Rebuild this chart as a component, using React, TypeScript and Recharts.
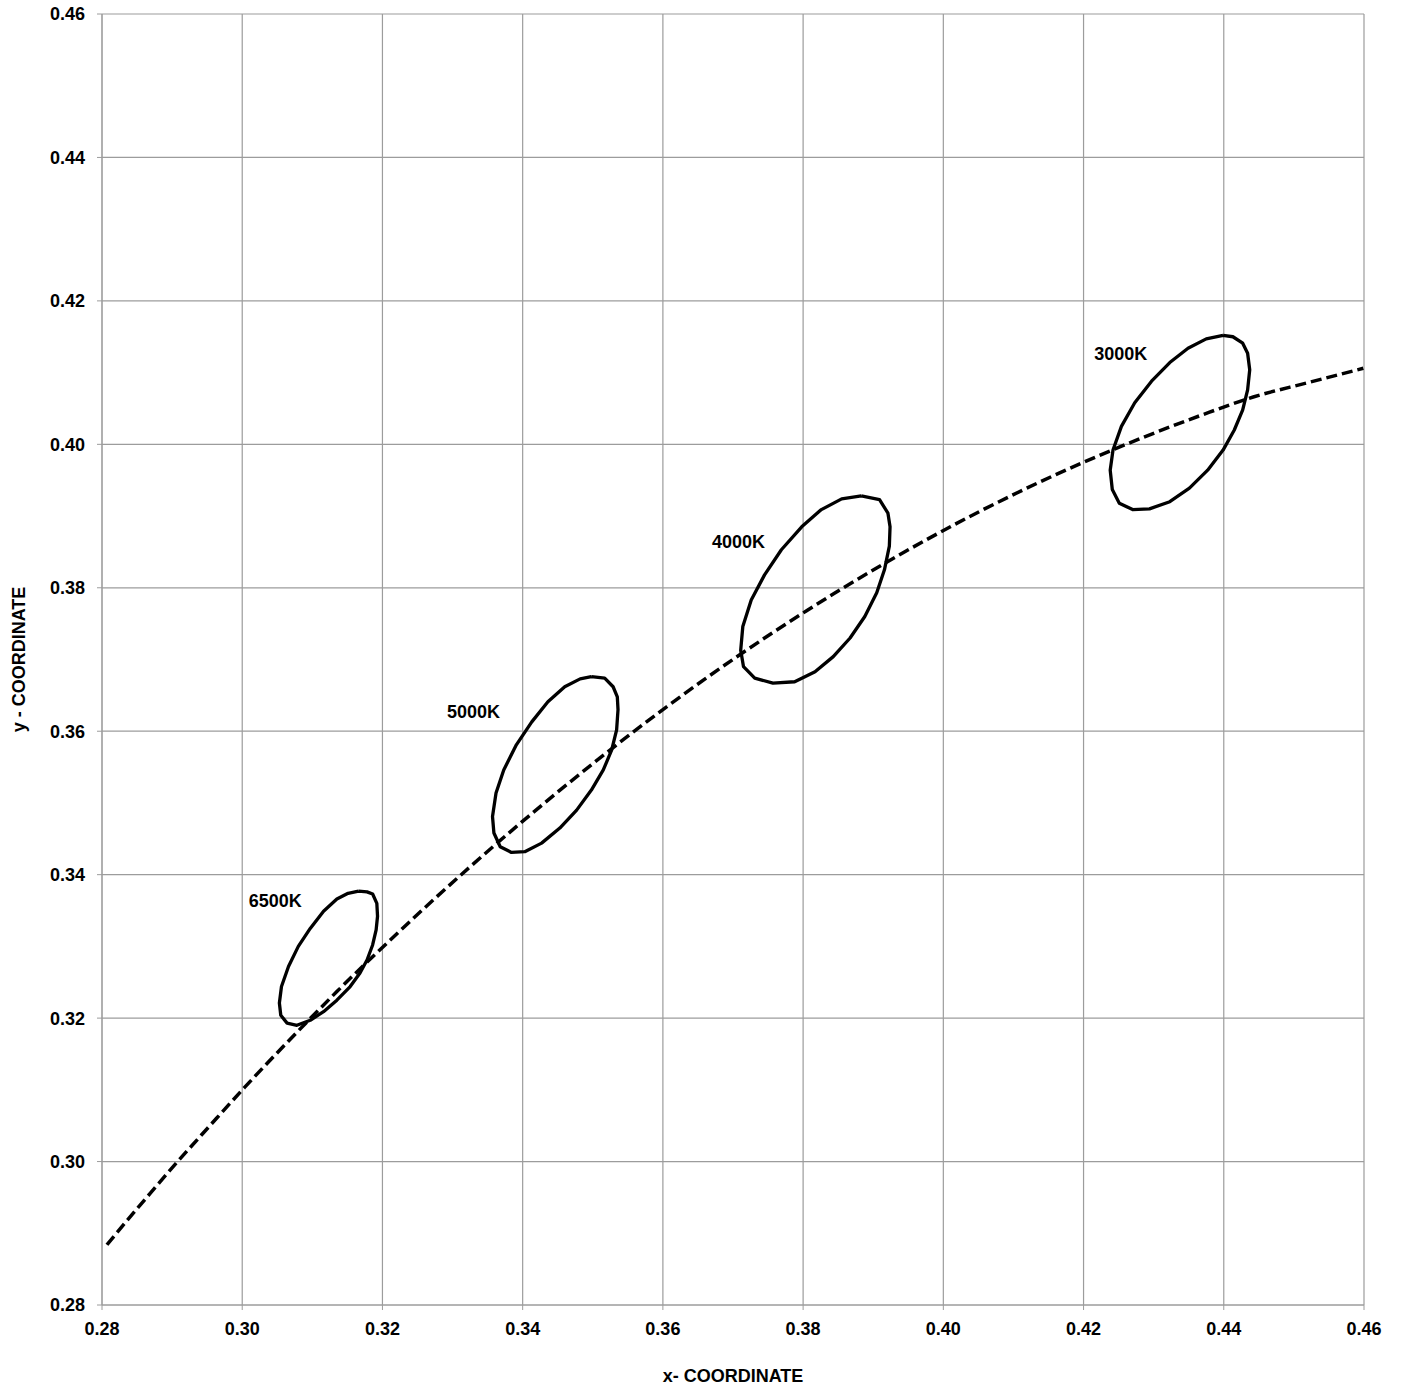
import React from "react";
import {
  ComposedChart,
  Line,
  XAxis,
  YAxis,
  CartesianGrid,
  ReferenceDot,
  Label,
} from "recharts";

type Pt = { x: number; y: number };

// Planckian locus, 10000K -> 2700K (CIE 1931 x, y)
const locus: Pt[] = [
  { x: 0.2807, y: 0.2884 },
  { x: 0.2836, y: 0.2918 },
  { x: 0.2869, y: 0.2956 },
  { x: 0.2907, y: 0.2999 },
  { x: 0.2952, y: 0.3048 },
  { x: 0.3003, y: 0.3103 },
  { x: 0.3064, y: 0.3166 },
  { x: 0.3135, y: 0.3237 },
  { x: 0.3221, y: 0.3318 },
  { x: 0.3325, y: 0.3411 },
  { x: 0.3451, y: 0.3516 },
  { x: 0.3608, y: 0.3636 },
  { x: 0.3805, y: 0.3768 },
  { x: 0.4053, y: 0.3907 },
  { x: 0.4369, y: 0.4041 },
  { x: 0.4442, y: 0.4066 },
  { x: 0.452, y: 0.4086 },
  { x: 0.4599, y: 0.4106 },
];

const ellipse6500: Pt[] = [
  { x: 0.3166, y: 0.3377 },
  { x: 0.3178, y: 0.3376 },
  { x: 0.3186, y: 0.3373 },
  { x: 0.3192, y: 0.336 },
  { x: 0.3193, y: 0.3342 },
  { x: 0.3191, y: 0.3323 },
  { x: 0.3186, y: 0.3302 },
  { x: 0.3178, y: 0.3281 },
  { x: 0.3168, y: 0.3263 },
  { x: 0.3154, y: 0.3244 },
  { x: 0.3135, y: 0.3225 },
  { x: 0.3116, y: 0.3209 },
  { x: 0.3097, y: 0.3197 },
  { x: 0.3078, y: 0.319 },
  { x: 0.3064, y: 0.3193 },
  { x: 0.3055, y: 0.3204 },
  { x: 0.3053, y: 0.3221 },
  { x: 0.3056, y: 0.3244 },
  { x: 0.3066, y: 0.3272 },
  { x: 0.308, y: 0.33 },
  { x: 0.3097, y: 0.3325 },
  { x: 0.3116, y: 0.3349 },
  { x: 0.3135, y: 0.3366 },
  { x: 0.3151, y: 0.3374 },
  { x: 0.3166, y: 0.3377 },
];

const ellipse5000: Pt[] = [
  { x: 0.3498, y: 0.3676 },
  { x: 0.3517, y: 0.3674 },
  { x: 0.3529, y: 0.3662 },
  { x: 0.3535, y: 0.3648 },
  { x: 0.3536, y: 0.363 },
  { x: 0.3534, y: 0.3602 },
  { x: 0.3527, y: 0.3574 },
  { x: 0.3515, y: 0.3546 },
  { x: 0.3498, y: 0.3518 },
  { x: 0.3477, y: 0.349 },
  { x: 0.3453, y: 0.3465 },
  { x: 0.3427, y: 0.3444 },
  { x: 0.3403, y: 0.3432 },
  { x: 0.3384, y: 0.3431 },
  { x: 0.3368, y: 0.3439 },
  { x: 0.3359, y: 0.3458 },
  { x: 0.3357, y: 0.3481 },
  { x: 0.3362, y: 0.3514 },
  { x: 0.3373, y: 0.3546 },
  { x: 0.3391, y: 0.3581 },
  { x: 0.3413, y: 0.3613 },
  { x: 0.3436, y: 0.3641 },
  { x: 0.346, y: 0.3662 },
  { x: 0.3482, y: 0.3673 },
  { x: 0.3498, y: 0.3676 },
];

const ellipse4000: Pt[] = [
  { x: 0.3883, y: 0.3928 },
  { x: 0.3909, y: 0.3923 },
  { x: 0.3921, y: 0.3904 },
  { x: 0.3924, y: 0.3885 },
  { x: 0.3923, y: 0.3858 },
  { x: 0.3916, y: 0.3825 },
  { x: 0.3905, y: 0.3793 },
  { x: 0.3888, y: 0.376 },
  { x: 0.3867, y: 0.373 },
  { x: 0.3843, y: 0.3704 },
  { x: 0.3817, y: 0.3683 },
  { x: 0.3788, y: 0.3669 },
  { x: 0.3757, y: 0.3667 },
  { x: 0.3731, y: 0.3674 },
  { x: 0.3715, y: 0.369 },
  { x: 0.3711, y: 0.3713 },
  { x: 0.3714, y: 0.3746 },
  { x: 0.3726, y: 0.3783 },
  { x: 0.3745, y: 0.3818 },
  { x: 0.3769, y: 0.3853 },
  { x: 0.3798, y: 0.3885 },
  { x: 0.3826, y: 0.3909 },
  { x: 0.3855, y: 0.3924 },
  { x: 0.3883, y: 0.3928 },
];

const ellipse3000: Pt[] = [
  { x: 0.4399, y: 0.4152 },
  { x: 0.4413, y: 0.415 },
  { x: 0.4427, y: 0.4141 },
  { x: 0.4434, y: 0.4127 },
  { x: 0.4437, y: 0.4104 },
  { x: 0.4434, y: 0.4076 },
  { x: 0.4427, y: 0.4048 },
  { x: 0.4415, y: 0.402 },
  { x: 0.4399, y: 0.3992 },
  { x: 0.4377, y: 0.3964 },
  { x: 0.4351, y: 0.3939 },
  { x: 0.4323, y: 0.392 },
  { x: 0.4294, y: 0.391 },
  { x: 0.427, y: 0.3909 },
  { x: 0.4251, y: 0.3918 },
  { x: 0.4241, y: 0.3937 },
  { x: 0.4238, y: 0.3964 },
  { x: 0.4242, y: 0.3992 },
  { x: 0.4254, y: 0.4025 },
  { x: 0.4273, y: 0.4058 },
  { x: 0.4297, y: 0.4088 },
  { x: 0.4323, y: 0.4114 },
  { x: 0.4349, y: 0.4134 },
  { x: 0.4375, y: 0.4147 },
  { x: 0.4399, y: 0.4152 },
];

const ellipses = [ellipse6500, ellipse5000, ellipse4000, ellipse3000];

const cctLabels = [
  { text: "6500K", x: 0.3047, y: 0.3364 },
  { text: "5000K", x: 0.333, y: 0.3628 },
  { text: "4000K", x: 0.3708, y: 0.3864 },
  { text: "3000K", x: 0.4253, y: 0.4126 },
];

const ticks = [0.28, 0.3, 0.32, 0.34, 0.36, 0.38, 0.4, 0.42, 0.44, 0.46];

const FONT = "'Liberation Sans', Arial, sans-serif";
const GRID = "#9c9c9c";
const tickStyle = { fill: "#000", fontSize: 18, fontWeight: 700, fontFamily: FONT };

export default function App() {
  return (
    <div style={{ position: "absolute", left: 0, top: 0, width: 1402, height: 1391 }}>
      <ComposedChart
        width={1402}
        height={1391}
        margin={{ top: 14, right: 38, bottom: 0, left: 0 }}
      >
        <CartesianGrid stroke={GRID} strokeWidth={1.2} />
        <XAxis
          type="number"
          dataKey="x"
          domain={[0.28, 0.46]}
          ticks={ticks}
          interval={0}
          allowDataOverflow
          tickFormatter={(v: number) => v.toFixed(2)}
          tick={tickStyle}
          tickSize={5}
          tickMargin={12}
          stroke={GRID}
          height={86}
        >
          <Label
            content={({ viewBox }: any) => (
              <text
                x={viewBox.x + viewBox.width / 2}
                y={viewBox.y + 71}
                textAnchor="middle"
                dominantBaseline="central"
                fontFamily={FONT}
                fontSize={18}
                fontWeight={700}
                fill="#000"
              >
                x- COORDINATE
              </text>
            )}
          />
        </XAxis>
        <YAxis
          type="number"
          dataKey="y"
          domain={[0.28, 0.46]}
          ticks={ticks}
          interval={0}
          allowDataOverflow
          tickFormatter={(v: number) => v.toFixed(2)}
          tick={tickStyle}
          tickSize={5}
          tickMargin={12}
          stroke={GRID}
          width={102}
        >
          <Label
            content={({ viewBox }: any) => {
              const cx = viewBox.x + 19;
              const cy = viewBox.y + viewBox.height / 2;
              return (
                <text
                  x={cx}
                  y={cy}
                  transform={`rotate(-90 ${cx} ${cy})`}
                  textAnchor="middle"
                  dominantBaseline="central"
                  fontFamily={FONT}
                  fontSize={18}
                  fontWeight={700}
                  fill="#000"
                >
                  y - COORDINATE
                </text>
              );
            }}
          />
        </YAxis>

        <Line
          data={locus}
          dataKey="y"
          type="monotone"
          stroke="#000"
          strokeWidth={3.5}
          strokeDasharray="11 5"
          dot={false}
          activeDot={false}
          isAnimationActive={false}
        />
        {ellipses.map((pts, i) => (
          <Line
            key={i}
            data={pts}
            dataKey="y"
            type="linear"
            stroke="#000"
            strokeWidth={3.3}
            strokeLinejoin="round"
            dot={false}
            activeDot={false}
            isAnimationActive={false}
          />
        ))}
        {cctLabels.map((l) => (
          <ReferenceDot
            key={l.text}
            x={l.x}
            y={l.y}
            r={0}
            fill="none"
            stroke="none"
            label={{
              value: l.text,
              position: "center",
              fill: "#000",
              fontSize: 18,
              fontWeight: 700,
              fontFamily: FONT,
            }}
          />
        ))}
      </ComposedChart>
    </div>
  );
}
